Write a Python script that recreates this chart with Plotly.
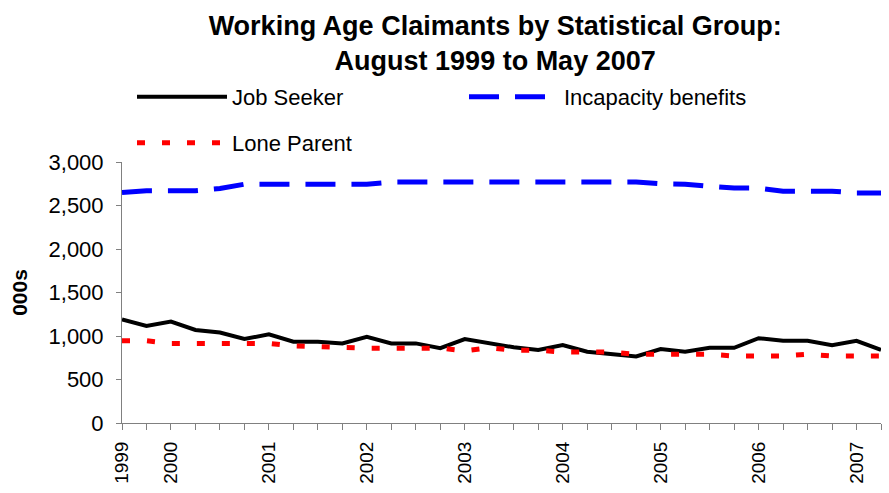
import plotly.graph_objects as go

quarters = ["Aug 1999", "Nov 1999",
            "Feb 2000", "May 2000", "Aug 2000", "Nov 2000",
            "Feb 2001", "May 2001", "Aug 2001", "Nov 2001",
            "Feb 2002", "May 2002", "Aug 2002", "Nov 2002",
            "Feb 2003", "May 2003", "Aug 2003", "Nov 2003",
            "Feb 2004", "May 2004", "Aug 2004", "Nov 2004",
            "Feb 2005", "May 2005", "Aug 2005", "Nov 2005",
            "Feb 2006", "May 2006", "Aug 2006", "Nov 2006",
            "Feb 2007", "May 2007"]

tick_labels = ["1999", "", "2000", "", "", "", "2001", "", "", "", "2002", "", "", "",
               "2003", "", "", "", "2004", "", "", "", "2005", "", "", "", "2006", "", "", "",
               "2007", ""]

job_seeker = [1190, 1115, 1165, 1070, 1040, 965, 1020, 935, 935, 915, 990, 915, 915, 860,
              965, 920, 870, 840, 895, 820, 795, 765, 850, 820, 865, 865, 975, 945, 945, 895,
              945, 840]

incapacity = [2650, 2670, 2670, 2670, 2695, 2745, 2745, 2745, 2745, 2745, 2745, 2770, 2770,
              2770, 2770, 2770, 2770, 2770, 2770, 2770, 2770, 2770, 2750, 2745, 2720, 2700,
              2700, 2665, 2665, 2665, 2645, 2645]

lone_parent = [945, 945, 915, 915, 915, 915, 915, 885, 875, 860, 860, 860, 860, 860, 830,
               865, 836, 836, 815, 815, 815, 790, 790, 790, 790, 770, 770, 770, 790, 770,
               770, 770]

FONT = "Liberation Sans, Arial, sans-serif"

fig = go.Figure()
fig.add_trace(go.Scatter(x=quarters, y=job_seeker, name="Job Seeker", mode="lines",
                         line=dict(color="#000000", width=4), legend="legend"))
fig.add_trace(go.Scatter(x=quarters, y=incapacity, name="Incapacity benefits", mode="lines",
                         line=dict(color="#0000FF", width=5, dash="30px,16px"), legend="legend"))
fig.add_trace(go.Scatter(x=quarters, y=lone_parent, name="Lone Parent", mode="lines",
                         line=dict(color="#FF0000", width=5, dash="8px,17px"), legend="legend2"))

fig.update_layout(
    width=889, height=493,
    margin=dict(l=122, r=8, t=162, b=70, autoexpand=False),
    paper_bgcolor="white", plot_bgcolor="white",
    font=dict(family=FONT, color="black"),
    title=dict(text="<b>Working Age Claimants by Statistical Group:<br>August 1999 to May 2007</b>",
               font=dict(size=27, family=FONT, color="black"),
               x=0.557, xref="container", xanchor="center",
               y=1 - 35 / 493, yref="container", yanchor="middle"),
    legend=dict(orientation="h", x=132 / 889, xref="container", xanchor="left",
                y=1 - 97 / 493, yref="container", yanchor="middle",
                font=dict(size=22, family=FONT), itemwidth=90, entrywidth=227,
                bgcolor="rgba(0,0,0,0)"),
    legend2=dict(orientation="h", x=132 / 889, xref="container", xanchor="left",
                 y=1 - 143 / 493, yref="container", yanchor="middle",
                 font=dict(size=22, family=FONT), itemwidth=90,
                 bgcolor="rgba(0,0,0,0)"),
    showlegend=True,
)

fig.update_xaxes(type="category", range=[0, len(quarters) - 1],
                 tickmode="array", tickvals=quarters, ticktext=tick_labels,
                 tickangle=-90, tickfont=dict(size=19, family=FONT),
                 ticks="outside", ticklen=6, tickcolor="#808080",
                 showline=True, linecolor="#808080", linewidth=1,
                 showgrid=False, zeroline=False, ticklabelstandoff=4, automargin=False)
fig.update_yaxes(range=[0, 3000], tickvals=[0, 500, 1000, 1500, 2000, 2500, 3000],
                 tickformat=",d", tickfont=dict(size=22, family=FONT),
                 ticks="outside", ticklen=5, tickcolor="#808080",
                 showline=True, linecolor="#808080", linewidth=1,
                 showgrid=False, zeroline=False, ticklabelstandoff=8, automargin=False,
                 title=dict(text="<b>000s</b>", font=dict(size=21, family=FONT), standoff=15))

fig.write_html("out.html", config={"displayModeBar": False},
               post_script="document.body.style.margin='0';")
